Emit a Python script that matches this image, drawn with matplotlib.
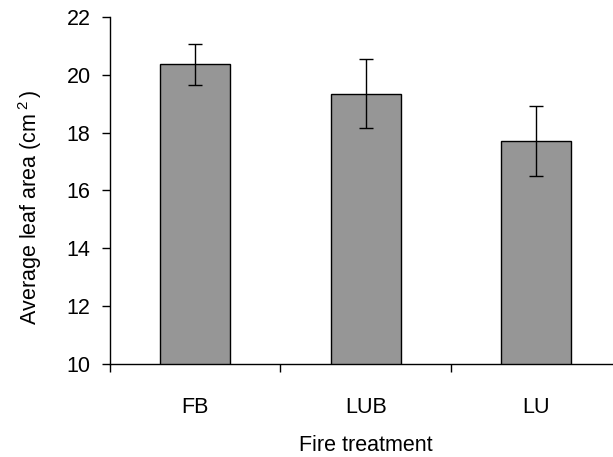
import matplotlib
matplotlib.use("Agg")
import matplotlib.pyplot as plt

plt.rcParams.update({
    "font.family": ["Liberation Sans", "DejaVu Sans"],
    "mathtext.fontset": "custom",
    "mathtext.rm": "Liberation Sans",
    "font.size": 15,
})

# values
treatments = ["FB", "LUB", "LU"]
mean_area = [20.36, 19.34, 17.72]
err_area = [0.72, 1.19, 1.21]

fig = plt.figure(figsize=(6.13, 4.57), dpi=100)
ax = fig.add_axes([0.1794, 0.2042, 0.8345, 0.7586])

x = list(range(len(treatments)))
ax.bar(x, mean_area, width=0.41, color="#969696", edgecolor="black",
       linewidth=1.0)
ax.errorbar(x, mean_area, yerr=err_area, fmt="none", ecolor="black",
            elinewidth=1.0, capsize=5, capthick=1.0)

ax.set_ylim(10, 22)
ax.set_yticks(range(10, 23, 2))
ax.set_xlim(-0.5, 2.5)
# category ticks sit between bars, labels under bars
ax.set_xticks([-0.5, 0.5, 1.5, 2.5])
ax.set_xticklabels([])
ax.set_xticks(x, minor=True)
ax.set_xticklabels(treatments, minor=True)
ax.tick_params(axis="x", which="minor", length=0, pad=24, labelsize=15.5)
ax.tick_params(axis="x", which="major", length=6, width=1.0, direction="out")
ax.tick_params(axis="y", length=5.5, width=1.0, direction="out",
               labelsize=15.5, pad=8.5)

for s in ("top", "right"):
    ax.spines[s].set_visible(False)
for s in ("left", "bottom"):
    ax.spines[s].set_linewidth(1.0)

ax.set_ylabel(r"Average leaf area (cm$\,^{2}\,$)", fontsize=15.5)
ax.yaxis.set_label_coords(-0.156, 0.45)
ax.yaxis.label.set_va("center")
ax.set_xlabel("Fire treatment", fontsize=15.5)
ax.xaxis.set_label_coords(0.5, -0.236)
ax.xaxis.label.set_va("center")

fig.savefig("out.png", dpi=100)
